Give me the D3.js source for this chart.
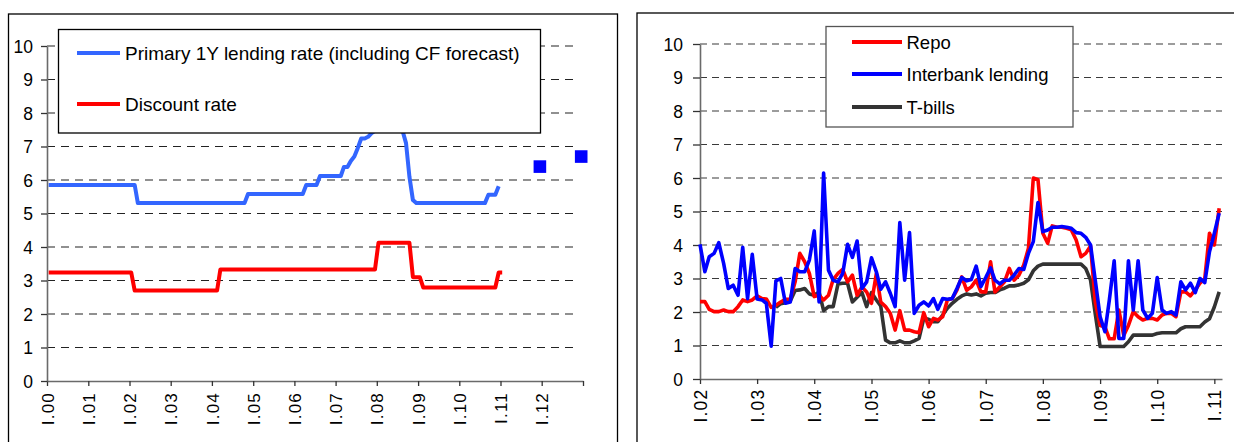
<!DOCTYPE html>
<html>
<head>
<meta charset="utf-8">
<script src="https://cdn.jsdelivr.net/npm/d3@7"></script>
<style>
  body { margin: 0; background: #fff; }
  svg { display: block; }
  text { font-family: "Liberation Sans", Arial, Helvetica, sans-serif; fill: #000; }
</style>
</head>
<body>
<svg id="chart" width="1234" height="442"></svg>
<script>
// ---------- Left panel: policy rates, monthly from Jan 2000 ----------
const leftStart = [2000, 0];
const lendingRate = [
  5.85, 5.85, 5.85, 5.85, 5.85, 5.85, 5.85, 5.85, 5.85, 5.85, 5.85, 5.85,
  5.85, 5.85, 5.85, 5.85, 5.85, 5.85, 5.85, 5.85, 5.85, 5.85, 5.85, 5.85,
  5.85, 5.85, 5.31, 5.31, 5.31, 5.31, 5.31, 5.31, 5.31, 5.31, 5.31, 5.31,
  5.31, 5.31, 5.31, 5.31, 5.31, 5.31, 5.31, 5.31, 5.31, 5.31, 5.31, 5.31,
  5.31, 5.31, 5.31, 5.31, 5.31, 5.31, 5.31, 5.31, 5.31, 5.31, 5.58, 5.58,
  5.58, 5.58, 5.58, 5.58, 5.58, 5.58, 5.58, 5.58, 5.58, 5.58, 5.58, 5.58,
  5.58, 5.58, 5.58, 5.85, 5.85, 5.85, 5.85, 6.12, 6.12, 6.12, 6.12, 6.12,
  6.12, 6.12, 6.39, 6.39, 6.57, 6.7, 6.95, 7.24, 7.24, 7.29, 7.4, 7.47,
  7.47, 7.47, 7.47, 7.47, 7.47, 7.47, 7.47, 7.47, 7.1, 6.1, 5.4, 5.31,
  5.31, 5.31, 5.31, 5.31, 5.31, 5.31, 5.31, 5.31, 5.31, 5.31, 5.31, 5.31,
  5.31, 5.31, 5.31, 5.31, 5.31, 5.31, 5.31, 5.31, 5.56, 5.56, 5.56, 5.81
];
const discountRate = [
  3.24, 3.24, 3.24, 3.24, 3.24, 3.24, 3.24, 3.24, 3.24, 3.24, 3.24, 3.24,
  3.24, 3.24, 3.24, 3.24, 3.24, 3.24, 3.24, 3.24, 3.24, 3.24, 3.24, 3.24,
  3.24, 2.70, 2.70, 2.70, 2.70, 2.70, 2.70, 2.70, 2.70, 2.70, 2.70, 2.70,
  2.70, 2.70, 2.70, 2.70, 2.70, 2.70, 2.70, 2.70, 2.70, 2.70, 2.70, 2.70,
  2.70, 2.70, 3.33, 3.33, 3.33, 3.33, 3.33, 3.33, 3.33, 3.33, 3.33, 3.33,
  3.33, 3.33, 3.33, 3.33, 3.33, 3.33, 3.33, 3.33, 3.33, 3.33, 3.33, 3.33,
  3.33, 3.33, 3.33, 3.33, 3.33, 3.33, 3.33, 3.33, 3.33, 3.33, 3.33, 3.33,
  3.33, 3.33, 3.33, 3.33, 3.33, 3.33, 3.33, 3.33, 3.33, 3.33, 3.33, 3.33,
  4.13, 4.13, 4.13, 4.13, 4.13, 4.13, 4.13, 4.13, 4.13, 4.13, 3.10, 3.10,
  3.10, 2.79, 2.79, 2.79, 2.79, 2.79, 2.79, 2.79, 2.79, 2.79, 2.79, 2.79,
  2.79, 2.79, 2.79, 2.79, 2.79, 2.79, 2.79, 2.79, 2.79, 2.79, 2.79, 3.24,
  3.24
];
// Consensus Forecast points for the 1Y lending rate (year, month index)
const forecastMonths = [[2011, 11], [2012, 11]];
const forecastRate = [6.4, 6.7];
const leftTickLabels = ["I.00", "I.01", "I.02", "I.03", "I.04", "I.05", "I.06",
  "I.07", "I.08", "I.09", "I.10", "I.11", "I.12", ""];
const leftLegend = ["Primary 1Y lending rate (including CF forecast)", "Discount rate"];

// ---------- Right panel: money market rates, monthly from Jan 2002 ----------
const rightStart = [2002, 0];
const repoRate = [
  2.31, 2.31, 2.08, 2.01, 2.01, 2.06, 2.01, 2.01, 2.16, 2.36,
  2.31, 2.36, 2.48, 2.4, 2.39, 2.14, 2.2, 2.3, 2.38, 2.39,
  2.9, 3.75, 3.5, 3.15, 2.46, 2.5, 2.36, 2.5, 2.97, 3.15,
  3.27, 2.9, 3.1, 2.5, 2.75, 2.6, 2.26, 3.15, 2.3, 2.16,
  1.96, 1.46, 2.04, 1.46, 1.46, 1.41, 1.38, 1.98, 1.56, 1.81,
  1.76, 1.86, 2.36, 2.4, 2.65, 3.05, 2.65, 2.75, 2.95, 2.6,
  2.6, 3.5, 2.6, 2.75, 2.9, 3.3, 2.95, 3.1, 3.4, 3.9,
  6.0, 5.95, 4.35, 4.05, 4.57, 4.53, 4.53, 4.5, 4.45, 4.15,
  3.65, 3.75, 3.97, 2.3, 1.6, 1.56, 1.2, 1.2, 2.06, 1.3,
  1.6, 2.01, 1.86, 1.76, 1.81, 1.81, 1.76, 1.91, 1.96, 1.96,
  1.86, 2.6, 2.6, 2.48, 2.66, 2.86, 3.0, 4.35, 4.0, 5.1
];
const interbankRate = [
  4.02, 3.2, 3.65, 3.75, 4.07, 3.45, 2.7, 2.8, 2.5, 3.93,
  2.4, 3.72, 2.39, 2.36, 2.26, 0.98, 2.93, 3.0, 2.26, 2.3,
  3.3, 3.2, 3.2, 3.55, 4.42, 2.3, 6.15, 3.25, 2.95, 2.9,
  3.15, 4.02, 3.63, 4.12, 2.7, 2.9, 3.62, 3.2, 2.68, 2.9,
  2.56, 2.16, 4.67, 2.95, 4.37, 1.96, 2.2, 2.3, 2.18, 2.4,
  2.08, 2.4, 2.38, 2.4, 2.7, 3.03, 2.93, 2.97, 3.37, 2.76,
  3.03, 3.32, 2.95, 2.84, 2.95, 2.95, 3.1, 3.3, 3.27, 3.75,
  4.1, 5.27, 4.4, 4.45, 4.53, 4.53, 4.55, 4.53, 4.5, 4.37,
  4.35, 4.23, 4.0, 2.95, 1.86, 1.41, 2.36, 3.53, 1.21, 1.21,
  3.53, 2.06, 3.53, 2.06, 1.81, 1.96, 3.03, 2.06, 1.96, 2.01,
  1.91, 2.9, 2.66, 2.86, 2.58, 3.0, 2.88, 3.8, 4.35, 4.95
];
// T-bill yields start in May 2003
const tbillStart = [2003, 4];
const tbillRate = [
  2.14, 2.25, 2.28, 2.33,
  2.64, 2.66, 2.7, 2.54, 2.5, 2.6, 2.04, 2.16, 2.16, 2.84,
  2.86, 2.86, 2.3, 2.44, 2.58, 2.16, 2.58, 2.36, 2.18, 1.16,
  1.08, 1.08, 1.14, 1.08, 1.08, 1.14, 1.21, 1.81, 1.78, 1.71,
  1.71, 1.91, 2.11, 2.26, 2.38, 2.48, 2.54, 2.51, 2.54, 2.48,
  2.56, 2.58, 2.58, 2.66, 2.71, 2.78, 2.78, 2.81, 2.86, 2.96,
  3.23, 3.37, 3.43, 3.43, 3.43, 3.43, 3.43, 3.43, 3.43, 3.43,
  3.43, 3.3, 2.95, 1.95, 0.97, 0.97, 0.97, 0.97, 0.97, 0.97,
  1.11, 1.31, 1.31, 1.31, 1.31, 1.31, 1.36, 1.38, 1.38, 1.38,
  1.38, 1.5, 1.56, 1.56, 1.56, 1.56, 1.7, 1.8, 2.15, 2.6
];
const rightTickLabels = ["I.02", "I.03", "I.04", "I.05", "I.06", "I.07",
  "I.08", "I.09", "I.10", "I.11"];
const rightLegend = ["Repo", "Interbank lending", "T-bills"];
const yTickValues = [0, 1, 2, 3, 4, 5, 6, 7, 8, 9, 10];

// ---------- helpers ----------
const svg = d3.select("#chart");
const FONT = '"Liberation Sans", Arial, Helvetica, sans-serif';

// monthly series -> [{date, value}], day = position inside the month
function monthly(start, values, day) {
  return values.map((v, i) => ({ date: new Date(start[0], start[1] + i, day), value: v }));
}

function drawGrid(g, x0, x1, y, dash, color) {
  g.append("g").selectAll("line").data(yTickValues.filter(v => v > 0)).join("line")
    .attr("x1", x0).attr("x2", x1)
    .attr("y1", d => y(d)).attr("y2", d => y(d))
    .attr("stroke", color).attr("stroke-width", 1.1)
    .attr("stroke-dasharray", dash);
}

function styleAxis(a) {
  a.select(".domain").attr("stroke", "#6a6a6a").attr("stroke-width", 1.6);
  a.selectAll(".tick line").attr("stroke", "#333").attr("stroke-width", 1.3);
  a.selectAll("text").style("font-family", FONT).attr("fill", "#000");
}

// ======================= LEFT PANEL =======================
const L = { left: 47, right: 583, top: 46, bottom: 381 };
svg.append("rect").attr("x", 8.5).attr("y", 14).attr("width", 609).attr("height", 470)
  .attr("fill", "#fff").attr("stroke", "#000").attr("stroke-width", 1.3);

const xL = d3.scaleTime()
  .domain([new Date(2000, 0, 1), new Date(2013, 0, 1)])
  .range([L.left, L.right]);
const yL = d3.scaleLinear().domain([0, 10]).range([L.bottom, L.top]);

const gL = svg.append("g");
drawGrid(gL, L.left, 578, yL, "8,6", "#222");

const leftYears = leftTickLabels.map((_, i) => new Date(2000 + i, 0, 1));
const axL = gL.append("g").attr("transform", `translate(0,${L.bottom})`)
  .call(d3.axisBottom(xL).tickValues(leftYears)
    .tickFormat((d, i) => leftTickLabels[i]).tickSize(5).tickSizeOuter(0));
styleAxis(axL);
axL.selectAll("text")
  .attr("transform", "rotate(-90)")
  .attr("x", -11).attr("y", 0).attr("dy", "0.36em")
  .attr("text-anchor", "end")
  .style("font-size", "17px").style("letter-spacing", "1.2px");

const ayL = gL.append("g").attr("transform", `translate(${L.left},0)`)
  .call(d3.axisLeft(yL).tickValues(yTickValues).tickSize(6).tickSizeOuter(0).tickPadding(8));
styleAxis(ayL);
ayL.selectAll("text").style("font-size", "17.5px").attr("dy", "0.36em");

const lineL = d3.line().x(d => xL(d.date)).y(d => yL(d.value));
gL.append("path").datum(monthly(leftStart, discountRate, 16))
  .attr("d", lineL).attr("fill", "none").attr("stroke", "#ff0000")
  .attr("stroke-width", 4).attr("stroke-linejoin", "round");
gL.append("path").datum(monthly(leftStart, lendingRate, 16))
  .attr("d", lineL).attr("fill", "none").attr("stroke", "#3366ff")
  .attr("stroke-width", 4).attr("stroke-linejoin", "round");

const fc = forecastMonths.map((m, i) => ({ date: new Date(m[0], m[1], 16), value: forecastRate[i] }));
gL.append("g").selectAll("rect").data(fc).join("rect")
  .attr("x", d => xL(d.date) - 6.3).attr("y", d => yL(d.value) - 6.3)
  .attr("width", 12.6).attr("height", 12.6).attr("fill", "#0000ff");

// legend (opaque, sits over the upper gridlines and the series peak)
const lgL = svg.append("g");
lgL.append("rect").attr("x", 58.5).attr("y", 29.5).attr("width", 482).attr("height", 103.5)
  .attr("fill", "#fff").attr("stroke", "#000").attr("stroke-width", 1.3);
const leftLegendColors = ["#3366ff", "#ff0000"];
const leftLegendY = [53, 104];
leftLegend.forEach((t, i) => {
  lgL.append("line").attr("x1", 77).attr("x2", 120)
    .attr("y1", leftLegendY[i]).attr("y2", leftLegendY[i])
    .attr("stroke", leftLegendColors[i]).attr("stroke-width", 4);
  lgL.append("text").attr("x", 125).attr("y", leftLegendY[i] + 6.8)
    .style("font-size", "19px").text(t);
});

// ======================= RIGHT PANEL =======================
const R = { left: 700, right: 1222, top: 44, bottom: 379 };
svg.append("rect").attr("x", 637).attr("y", 13).attr("width", 640).attr("height", 470)
  .attr("fill", "#fff").attr("stroke", "#000").attr("stroke-width", 1.3);

const xR = d3.scaleTime()
  .domain([new Date(2002, 0, 1), new Date(2011, 1, 19)])
  .range([R.left, R.right]);
const yR = d3.scaleLinear().domain([0, 10]).range([R.bottom, R.top]);

const gR = svg.append("g");
drawGrid(gR, R.left, R.right, yR, "7,5", "#3a3a3a");

const rightYears = rightTickLabels.map((_, i) => new Date(2002 + i, 0, 1));
const axR = gR.append("g").attr("transform", `translate(0,${R.bottom})`)
  .call(d3.axisBottom(xR).tickValues(rightYears)
    .tickFormat((d, i) => rightTickLabels[i]).tickSize(5).tickSizeOuter(0));
styleAxis(axR);
axR.selectAll("text")
  .attr("transform", "rotate(-90)")
  .attr("x", -9.5).attr("y", 0).attr("dy", "0.36em")
  .attr("text-anchor", "end")
  .style("font-size", "17.5px").style("letter-spacing", "1.2px");

const ayR = gR.append("g").attr("transform", `translate(${R.left},0)`)
  .call(d3.axisLeft(yR).tickValues(yTickValues).tickSize(7).tickSizeOuter(0).tickPadding(10));
styleAxis(ayR);
ayR.selectAll("text").style("font-size", "17.5px").attr("dy", "0.36em");

const lineR = d3.line().x(d => xR(d.date)).y(d => yR(d.value));
const rightSeries = [
  { values: monthly(tbillStart, tbillRate, 1), color: "#333333" },
  { values: monthly(rightStart, repoRate, 1), color: "#ff0000" },
  { values: monthly(rightStart, interbankRate, 1), color: "#0000ff" }
];
rightSeries.forEach(s => {
  gR.append("path").datum(s.values).attr("d", lineR)
    .attr("fill", "none").attr("stroke", s.color)
    .attr("stroke-width", 3.6).attr("stroke-linejoin", "round");
});

const lgR = svg.append("g");
lgR.append("rect").attr("x", 826).attr("y", 26.5).attr("width", 247).attr("height", 100.5)
  .attr("fill", "#fff").attr("stroke", "#555").attr("stroke-width", 1.3);
const rightLegendColors = ["#ff0000", "#0000ff", "#333333"];
const rightLegendY = [42, 74, 107];
rightLegend.forEach((t, i) => {
  lgR.append("line").attr("x1", 852).attr("x2", 902)
    .attr("y1", rightLegendY[i]).attr("y2", rightLegendY[i])
    .attr("stroke", rightLegendColors[i]).attr("stroke-width", 4);
  lgR.append("text").attr("x", 906.5).attr("y", rightLegendY[i] + 6.5)
    .style("font-size", "18.5px").text(t);
});
</script>
</body>
</html>
